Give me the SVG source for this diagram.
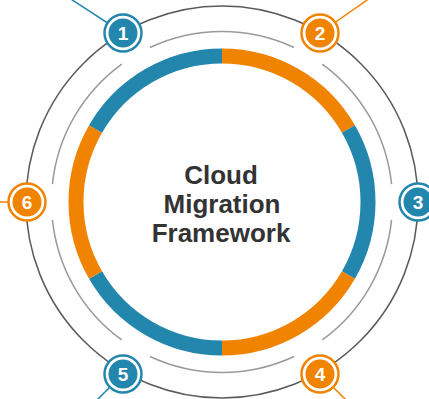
<svg xmlns="http://www.w3.org/2000/svg" width="429" height="399" viewBox="0 0 429 399">
<style>
.ring{fill:none;stroke-width:15}
.b{stroke:#2386ad}
.o{stroke:#f08300}
.outer{fill:none;stroke:#5a5a5a;stroke-width:1.5}
.inner{fill:none;stroke:#9a9a9a;stroke-width:1.5}
.lead{fill:none;stroke-width:1.5}
.mring{fill:#fff;stroke-width:2.5}
.bf{fill:#2386ad}
.of{fill:#f08300}
.num{font-family:"Liberation Sans",Arial,sans-serif;font-weight:bold;font-size:19px;fill:#fff;text-anchor:middle}
.title{font-family:"Liberation Sans",Arial,sans-serif;font-weight:bold;font-size:26px;fill:#333;text-anchor:middle}
</style>
<rect width="429" height="399" fill="#fff"/>
<g id="connectors">
<circle class="outer" cx="222" cy="202" r="196"/>
<path class="inner" d="M149.95,47.47 A170.5,170.5 0 0 1 294.05,47.47"/>
<path class="inner" d="M322.22,64.06 A170.5,170.5 0 0 1 391.57,184.18"/>
<path class="inner" d="M391.57,219.82 A170.5,170.5 0 0 1 322.22,339.94"/>
<path class="inner" d="M294.05,356.53 A170.5,170.5 0 0 1 149.95,356.53"/>
<path class="inner" d="M121.78,339.94 A170.5,170.5 0 0 1 52.43,219.82"/>
<path class="inner" d="M52.43,184.18 A170.5,170.5 0 0 1 121.78,64.06"/>
<path class="lead b" d="M123,33 L60,-8"/>
<path class="lead o" d="M320,33 L380,-9"/>
<path class="lead b" d="M418,202 L440,202"/>
<path class="lead o" d="M320,374 L347,401"/>
<path class="lead b" d="M123,374 L96,401"/>
<path class="lead o" d="M27,202 L-5,202"/>
</g>
<g id="ring">
<path class="ring o" d="M222,56 A146,146 0 0 1 348.44,129"/>
<path class="ring b" d="M348.44,129 A146,146 0 0 1 348.44,275"/>
<path class="ring o" d="M348.44,275 A146,146 0 0 1 222,348"/>
<path class="ring b" d="M222,348 A146,146 0 0 1 95.56,275"/>
<path class="ring o" d="M95.56,275 A146,146 0 0 1 95.56,129"/>
<path class="ring b" d="M95.56,129 A146,146 0 0 1 222,56"/>
</g>
<g id="title">
<text class="title" x="221" y="184">Cloud</text>
<text class="title" x="222" y="213">Migration</text>
<text class="title" x="221" y="242">Framework</text>
</g>
<g id="marker1">
<circle class="mring b" cx="123" cy="33" r="18.5"/>
<circle class="bf" cx="123" cy="33" r="14.5"/>
<text class="num" x="123" y="39.8">1</text>
</g>
<g id="marker2">
<circle class="mring o" cx="320" cy="33" r="18.5"/>
<circle class="of" cx="320" cy="33" r="14.5"/>
<text class="num" x="320" y="39.8">2</text>
</g>
<g id="marker3">
<circle class="mring b" cx="418" cy="202" r="18.5"/>
<circle class="bf" cx="418" cy="202" r="14.5"/>
<text class="num" x="418" y="208.8">3</text>
</g>
<g id="marker4">
<circle class="mring o" cx="320" cy="374" r="18.5"/>
<circle class="of" cx="320" cy="374" r="14.5"/>
<text class="num" x="320" y="380.8">4</text>
</g>
<g id="marker5">
<circle class="mring b" cx="123" cy="374" r="18.5"/>
<circle class="bf" cx="123" cy="374" r="14.5"/>
<text class="num" x="123" y="380.8">5</text>
</g>
<g id="marker6">
<circle class="mring o" cx="27" cy="202" r="18.5"/>
<circle class="of" cx="27" cy="202" r="14.5"/>
<text class="num" x="27" y="208.8">6</text>
</g>
</svg>
